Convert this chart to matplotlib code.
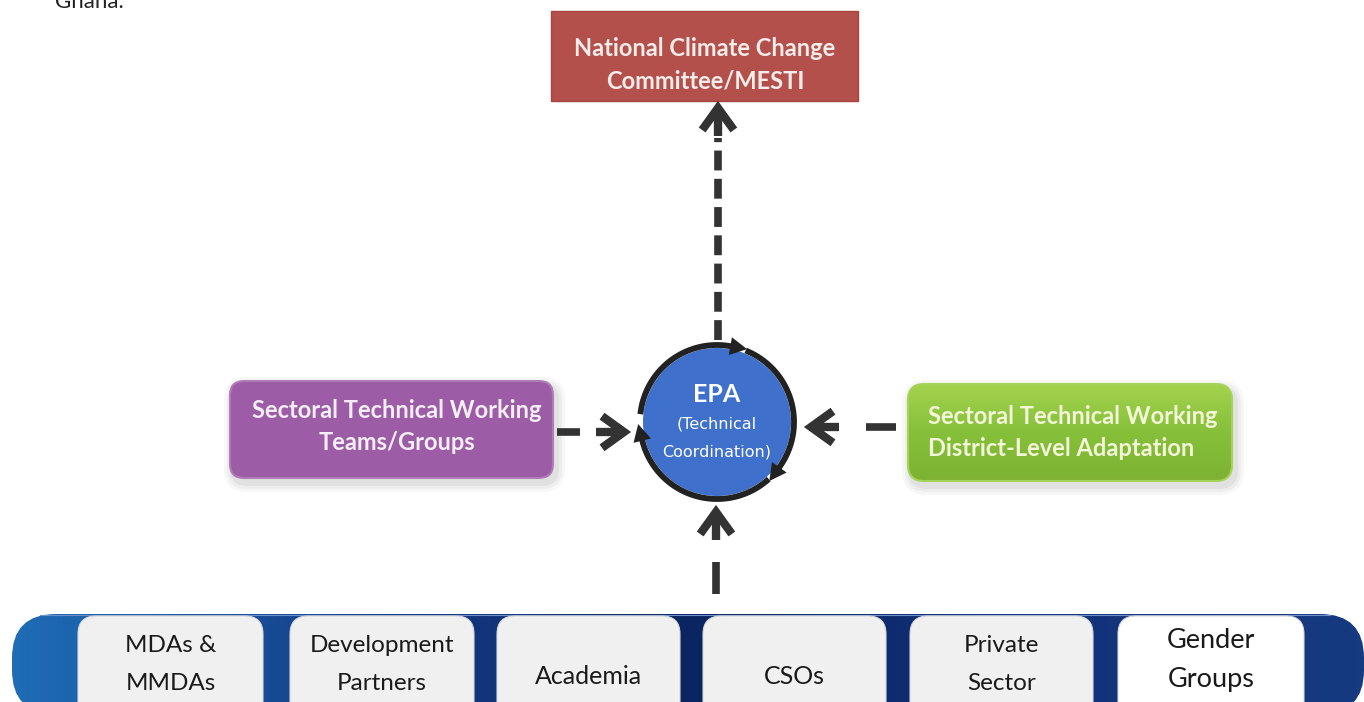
import numpy as np
import matplotlib
matplotlib.use("Agg")
import matplotlib.pyplot as plt
from matplotlib.patches import FancyBboxPatch, Rectangle, Circle, Polygon
from matplotlib.colors import LinearSegmentedColormap

plt.rcParams['font.family'] = ['Lato', 'DejaVu Sans']

W, H = 1364, 702

top_lines = ["National Climate Change", "Committee/MESTI"]
left_lines = ["Sectoral Technical Working", "Teams/Groups"]
right_lines = ["Sectoral Technical Working", "District-Level Adaptation"]
epa_lines = ["EPA", "(Technical", "Coordination)"]
stakeholders = [["MDAs &", "MMDAs"], ["Development", "Partners"], ["Academia"],
                ["CSOs"], ["Private", "Sector"], ["Gender", "Groups"]]

# layout in pixels (x left, y down)
slot_x = [78, 290, 497, 703, 910, 1118]
slot_w = [185, 184, 183, 183, 183, 186]
cx, cy, r = 717, 422, 77
dark = "#333333"

fig = plt.figure(figsize=(W / 100, H / 100), dpi=100)
ax = fig.add_axes([0, 0, 1, 1])
ax.set_xlim(0, W)
ax.set_ylim(H, 0)
ax.axis("off")

ax.text(55, 8, "Ghana.", fontsize=16, color="#222222", va="baseline", ha="left")


def shadow(x, y, w, h, rs):
    for k, a in zip([9, 6, 3], [0.06, 0.08, 0.10]):
        ax.add_patch(FancyBboxPatch((x - k + 3, y - k + 5), w + 2 * k, h + 2 * k,
                                    boxstyle=f"round,pad=0,rounding_size={rs + k}",
                                    fc="#808080", ec="none", alpha=a, zorder=1))


def chevron(tipx, tipy, dx, dy, size=22, lw=6):
    # open arrow head pointing in direction (dx, dy)
    n = np.hypot(dx, dy)
    ux, uy = dx / n, dy / n
    px, py = -uy, ux
    bx, by = tipx - ux * size, tipy - uy * size
    pts = [(bx + px * size * 0.72, by + py * size * 0.72), (tipx, tipy),
           (bx - px * size * 0.72, by - py * size * 0.72)]
    ax.plot([p[0] for p in pts], [p[1] for p in pts], color=dark, lw=lw,
            solid_joinstyle="miter", solid_capstyle="butt", zorder=5)
    ax.plot([tipx - ux * 4, tipx - ux * (size + 6)], [tipy - uy * 4, tipy - uy * (size + 6)],
            color=dark, lw=lw, solid_capstyle="butt", zorder=5)


def dashed(x0, y0, x1, y1, lw=5.5, dash=(2.6, 1.1)):
    ax.plot([x0, x1], [y0, y1], color=dark, lw=lw, dashes=dash,
            solid_capstyle="butt", dash_capstyle="butt", zorder=4)


def solid(x0, y0, x1, y1, lw=5.5):
    ax.plot([x0, x1], [y0, y1], color=dark, lw=lw, solid_capstyle="butt", zorder=4)


# top box
ax.add_patch(Rectangle((551, 11), 307, 90, fc="#B4504B", ec="#A8443F", lw=1, zorder=2))
for i, t in enumerate(top_lines):
    ax.text(705, 49 + i * 32, t, fontsize=17, fontweight="bold", color="#F6ECEA",
            ha="center", va="center", zorder=3)

# left box
shadow(230, 381, 323, 97, 14)
ax.add_patch(FancyBboxPatch((230, 381), 323, 97, boxstyle="round,pad=0,rounding_size=14",
                            fc="#9C5CA6", ec="#B07CB8", lw=1.5, zorder=2))
for i, t in enumerate(left_lines):
    ax.text(397, 411 + i * 31, t, fontsize=17, fontweight="bold", color="#F5EEF6",
            ha="center", va="center", zorder=3)

# right box with vertical gradient
shadow(908, 384, 324, 97, 16)
gbox = FancyBboxPatch((908, 384), 324, 97, boxstyle="round,pad=0,rounding_size=16",
                      fc="none", ec="#A6D35A", lw=1.5, zorder=3)
ax.add_patch(gbox)
gcm = LinearSegmentedColormap.from_list("g", ["#A3D24E", "#86C03A", "#7DB232"])
gimg = ax.imshow(np.linspace(0, 1, 100).reshape(-1, 1), cmap=gcm, aspect="auto",
                 extent=[908, 1232, 481, 384], zorder=2)
gimg.set_clip_path(gbox)
for i, t in enumerate(right_lines):
    ax.text(928, 416 + i * 32, t, fontsize=17, fontweight="bold", color="#F3F6D8",
            ha="left", va="center", zorder=4)

# EPA circle
ax.add_patch(Circle((cx, cy), r - 3, fc="#3F70CC", ec="none", zorder=3))
for t0, t1 in [(172, 80), (66, -36), (-50, -166)]:
    t = np.radians(np.linspace(t0, t1, 60))
    ax.plot(cx + r * np.cos(t), cy - r * np.sin(t), color="#222222", lw=4.2, zorder=4)
    te = np.radians(t1)
    ex, ey = cx + r * np.cos(te), cy - r * np.sin(te)
    ux, uy = np.sin(te), np.cos(te)  # clockwise tangent in screen coords
    px, py = -uy, ux
    tri = [(ex + ux * 17, ey + uy * 17), (ex + px * 9, ey + py * 9), (ex - px * 9, ey - py * 9)]
    ax.add_patch(Polygon(tri, closed=True, fc="#222222", ec="none", zorder=4))

ax.text(cx, 394, epa_lines[0], fontsize=18, fontweight="bold", color="white",
        ha="center", va="center", zorder=5)
for i, t in enumerate(epa_lines[1:]):
    ax.text(cx, 424 + i * 28, t, fontsize=11.5, color="white", ha="center", va="center",
            family=["Liberation Sans Narrow", "DejaVu Sans"], zorder=5)

# arrows
dashed(718, 340, 718, 138)
chevron(718, 108, 0, -1)
solid(557, 432, 580, 432)
chevron(624, 432, 1, 0)
solid(896, 427, 866, 427)
chevron(811, 427, -1, 0)
solid(716, 594, 716, 562)
chevron(716, 512, 0, -1)

# bottom band with horizontal gradient
band = FancyBboxPatch((12, 614), 1352, 100, boxstyle="round,pad=0,rounding_size=44",
                      fc="none", ec="none", zorder=2)
ax.add_patch(band)
bcm = LinearSegmentedColormap.from_list("b", ["#1E6CB5", "#163F8A", "#0B2462", "#12317A", "#163A80"])
bimg = ax.imshow(np.linspace(0, 1, 300).reshape(1, -1), cmap=bcm, aspect="auto",
                 extent=[12, 1364, 714, 614], zorder=2)
bimg.set_clip_path(band)
ax.plot([40, 1330], [614.5, 614.5], color="#6F8FC8", lw=0.8, zorder=3)

for i, (x, w, lines) in enumerate(zip(slot_x, slot_w, stakeholders)):
    fc = "#FFFFFF" if i == len(stakeholders) - 1 else "#F0F0F0"
    ax.add_patch(FancyBboxPatch((x, 616), w, 110, boxstyle="round,pad=0,rounding_size=18",
                                fc=fc, ec="#D8D8D8", lw=0.8, zorder=3))
    mx = x + w / 2
    if len(lines) == 1:
        ax.text(mx, 677, lines[0], fontsize=18, color="#1A1A1A", ha="center", va="center", zorder=4)
    elif i == len(stakeholders) - 1:
        for j, t in enumerate(lines):
            ax.text(mx, 640 + j * 40, t, fontsize=19.5, color="#1A1A1A", ha="center", va="center", zorder=4)
    else:
        for j, t in enumerate(lines):
            ax.text(mx, 645 + j * 39, t, fontsize=17.5, color="#1A1A1A", ha="center", va="center", zorder=4)

fig.savefig("out.png", dpi=100)
